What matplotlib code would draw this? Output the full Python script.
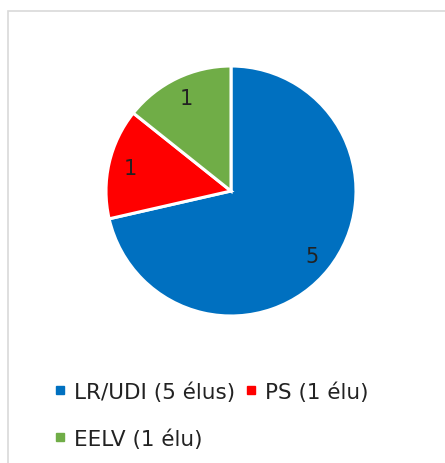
import matplotlib.pyplot as plt
from matplotlib.lines import Line2D
from matplotlib.patches import Rectangle

# Elus par liste
parties = ["LR/UDI (5 élus)", "PS (1 élu)", "EELV (1 élu)"]
seats = [5, 1, 1]
colors = ["#0070C0", "#FF0000", "#70AD47"]

plt.rcParams['font.family'] = ['DejaVu Sans']

fig = plt.figure(figsize=(4.45, 4.64), dpi=100)

# light frame around the chart area (runs off right/bottom edges)
fig.patches.append(Rectangle((8 / 445, -0.1), 1.0, (464 - 12) / 464 + 0.1,
                             transform=fig.transFigure, fill=False,
                             edgecolor="#D9D9D9", linewidth=1.2))

ax = fig.add_axes([106 / 445, (464 - 317) / 464, 250 / 445, 250 / 464])
wedges, texts = ax.pie(seats, colors=colors, startangle=90, counterclock=False,
                       labels=[str(s) for s in seats], labeldistance=0.83,
                       wedgeprops=dict(edgecolor="white", linewidth=2.2),
                       textprops=dict(fontsize=15, color="#222222",
                                      ha="center", va="center"))
for w in wedges:
    w.set_clip_on(False)
ax.set_xlim(-1, 1)
ax.set_ylim(-1, 1)
ax.set_aspect("equal")

handles = [Line2D([], [], marker="s", linestyle="", markersize=6,
                  color=c) for c in colors]
# reorder so the legend reads LR/UDI, PS on row 1 and EELV on row 2
order = [0, 2, 1]
fig.legend([handles[i] for i in order], [parties[i] for i in order],
           loc="upper left", bbox_to_anchor=(34 / 445, 1 - 363 / 464),
           ncol=2, frameon=False, fontsize=15.5, handlelength=0.6,
           handletextpad=0.35, columnspacing=0.45, labelspacing=1.22,
           labelcolor="#222222")

fig.savefig("out.png", dpi=100)
